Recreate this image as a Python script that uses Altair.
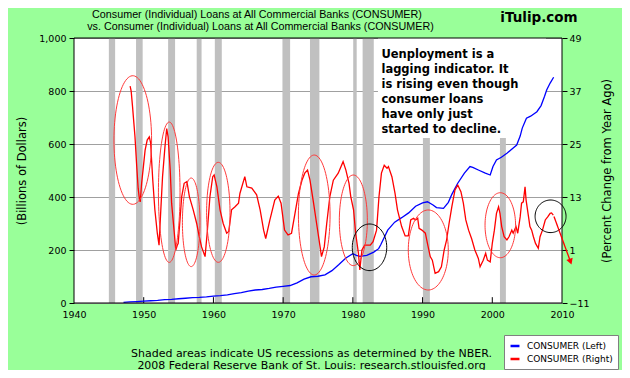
import altair as alt
import pandas as pd
import numpy as np

# ---------------- data ----------------
rec_start = [1945.0, 1948.9, 1953.5, 1957.6, 1960.2, 1969.9, 1973.85, 1980.05, 1981.4, 1990.05, 2001.1]
rec_end = [1945.9, 1949.85, 1954.5, 1958.3, 1961.2, 1971.0, 1975.2, 1980.55, 1983.0, 1991.05, 2001.95]

blue_years = [1947.1, 1948, 1949, 1950, 1951, 1952, 1953, 1954, 1955, 1956, 1957, 1958, 1959, 1960,
              1961, 1962, 1963, 1964, 1965, 1966, 1967, 1968, 1969, 1970, 1971, 1972, 1973, 1974,
              1975, 1976, 1977, 1978, 1979, 1980, 1980.5, 1981, 1982, 1983, 1983.7, 1984, 1985,
              1986, 1987, 1988, 1989, 1990, 1990.7, 1991.5, 1992, 1993, 1993.7, 1994.2, 1995,
              1996, 1996.8, 1997.2, 1998, 1999, 1999.7, 2000.1, 2000.6, 2001.3, 2002.1, 2003,
              2003.5, 2004, 2004.3, 2004.9, 2005.5, 2006.4, 2007, 2007.5, 2007.8, 2008.3, 2008.8]
blue_vals = [2, 4, 5.5, 7, 8.5, 10, 13, 14, 16, 18, 20, 21, 23, 26,
             28, 31, 35, 39, 45, 49, 51, 55, 60, 63, 66, 76, 90, 99,
             101, 106, 122, 145, 170, 186, 180, 176, 180, 192, 205, 220, 275,
             305, 322, 340, 365, 378, 382, 370, 360, 357, 380, 410, 450,
             490, 515, 512, 502, 490, 483, 515, 540, 550, 565, 585,
             596, 630, 660, 697, 705, 722, 745, 780, 804, 830, 852]

red_years = [1948.05, 1948.2, 1948.4, 1948.6, 1948.75, 1949.0, 1949.2, 1949.4, 1949.5, 1949.6, 1949.7,
             1949.9, 1950.2, 1950.5, 1950.8, 1951.0, 1951.1, 1951.3, 1951.6, 1951.95, 1952.2, 1952.4,
             1952.7, 1953.05, 1953.3, 1953.5, 1953.8, 1954.0, 1954.35, 1954.6, 1954.8, 1954.95, 1955.2,
             1955.45, 1955.8, 1956.2, 1956.55, 1957.1, 1957.6, 1957.97, 1958.3, 1958.8, 1959.1, 1959.5,
             1959.9, 1960.1, 1960.5, 1960.95, 1961.4, 1961.9, 1962.2, 1962.6, 1963.1, 1963.6, 1963.8,
             1964.5, 1964.8, 1965.5, 1966.2, 1966.7, 1967.2, 1967.5, 1968.1, 1968.8, 1969.3, 1969.7,
             1970.2, 1970.7, 1971.2, 1971.7, 1972.2, 1972.7, 1973.1, 1973.5, 1973.85, 1974.3, 1974.8,
             1975.3, 1975.5, 1975.9, 1976.25, 1976.7, 1977.2, 1977.9, 1978.6, 1979.0, 1979.45, 1979.7,
             1980.1, 1980.4, 1980.8, 1981.0, 1981.3, 1981.7, 1982.5, 1982.9, 1983.4, 1983.75, 1984.1,
             1984.5, 1984.9, 1985.1, 1985.6, 1986.05, 1986.4, 1987.0, 1987.5, 1987.95, 1988.3, 1988.7,
             1989.0, 1989.3, 1989.5, 1989.9, 1990.4, 1990.7, 1991.1, 1991.4, 1991.8, 1992.3, 1992.7,
             1993.1, 1993.45, 1993.8, 1994.2, 1994.65, 1995.05, 1995.5, 1995.85, 1996.2, 1996.6,
             1997.05, 1997.5, 1998.0, 1998.25, 1998.7, 1999.05, 1999.3, 1999.7, 2000.0, 2000.3, 2000.6,
             2000.9, 2001.1, 2001.35, 2001.7, 2002.1, 2002.4, 2002.8, 2003.0, 2003.4, 2003.65, 2004.0,
             2004.2, 2004.45, 2004.7, 2004.85, 2005.2, 2005.4, 2005.65, 2005.9, 2006.2, 2006.6, 2006.85,
             2007.2, 2007.6, 2007.95, 2008.3, 2008.5, 2008.75]
red_vals = [38.1, 37.0, 33.4, 29.5, 26.6, 19.9, 15.0, 12.3, 11.9, 14.0, 16.1,
            19.1, 23.6, 25.9, 26.6, 25.2, 22.1, 16.8, 10.1, 4.8, 2.1, 8.5,
            17.6, 24.4, 28.5, 26.6, 19.1, 11.6, 5.5, 1.0, 2.0, 2.5, 7.8,
            13.1, 16.1, 16.5, 13.1, 10.1, 7.0, 4.0, 1.7, -0.5, 4.8, 13.1,
            17.6, 18.0, 15.3, 10.1, 7.0, 4.8, 5.2, 10.1, 10.8, 11.6, 13.8,
            17.6, 15.3, 15.0, 13.5, 10.1, 5.5, 3.6, 7.8, 12.3, 13.2, 11.6,
            5.5, 4.4, 4.8, 9.3, 13.8, 16.8, 18.4, 19.1, 16.8, 12.3, 7.0,
            1.7, -0.5, 1.7, 7.0, 13.1, 16.8, 18.4, 21.0, 19.1, 16.1, 13.1,
            10.1, 4.8, 0.25, -3.5, 1.0, 2.1, 2.1, 2.9, 5.5, 13.1, 18.4,
            20.2, 19.5, 19.9, 17.6, 13.8, 10.1, 6.3, 4.2, 4.2, 7.8, 8.2,
            7.8, 8.2, 5.9, 5.5, 4.8, 2.5, -0.5, -1.3, -4.3, -3.9, -2.8,
            1.0, 3.3, 7.0, 10.8, 14.6, 15.7, 14.2, 11.6, 7.8, 5.5,
            3.5, 1.0, -0.9, -2.8, -1.3, 0.25, -1.3, -1.7, 2.5, 5.5, 9.3,
            10.8, 9.3, 6.3, 4.0, 3.3, 4.0, 5.5, 4.8, 6.3, 4.8, 8.5,
            11.6, 11.9, 15.3, 12.3, 8.5, 6.3, 5.5, 4.0, 2.5, 1.4, 4.0,
            5.5, 7.8, 8.5, 9.3, 9.4, 8.9]

# annotation ellipses (centre year, centre %, half-width in years, half-height in %)
red_ell = [(1948.43, 25.9, 2.70, 14.56), (1953.66, 14.08, 1.55, 15.89), (1956.81, 7.27, 1.26, 10.03),
           (1960.70, 9.53, 1.68, 11.32), (1974.46, 8.92, 2.27, 13.58), (1980.07, 7.72, 2.01, 10.26),
           (1990.82, 1.0, 2.87, 9.06), (2001.15, 6.61, 2.19, 7.36)]
black_ell = [(1982.39, 1.61, 2.47, 5.28), (2008.36, 8.63, 2.22, 3.69)]

arrow_years = [2008.85, 2011.22]
arrow_vals = [8.6, -1.65]

title_lines = ["Consumer (Individual) Loans at All Commercial Banks (CONSUMER)",
               "vs.  Consumer (Individual) Loans at All Commercial Banks (CONSUMER)"]
title_pos_yr = [1966.25, 1966.75]
title_pos_p = [54.1, 51.45]
footer_lines = ["Shaded areas indicate US recessions as determined by the NBER.",
                "2008 Federal Reserve Bank of St. Louis: research.stlouisfed.org"]
note_text = "Uenployment is a\nlagging indicator. It\nis rising even though\nconsumer loans\nhave only just\nstarted to decline."
series_names = ["CONSUMER (Left)", "CONSUMER (Right)"]
x_ticks = [1940, 1950, 1960, 1970, 1980, 1990, 2000, 2010]
left_ticks = [0, 200, 400, 600, 800, 1000]
right_ticks = [-11, 1, 13, 25, 37, 49]

# ---------------- tables ----------------
rec_df = pd.DataFrame({"yr": rec_start, "yr2": rec_end})
blue_df = pd.DataFrame({"yr": blue_years, "v": blue_vals, "s": series_names[0]})
red_df = pd.DataFrame({"yr": red_years, "p": red_vals, "s": series_names[1]})
box_df = pd.DataFrame({"yr": [1983.6], "yr2": [2007.7], "v": [1000], "v2": [623]})
frame_df = pd.DataFrame({"yr": [1940], "yr2": [2010], "v": [0], "v2": [1000]})
xtick_df = pd.DataFrame({"yr": x_ticks[1:-1], "v": 0, "v2": 22})


def ellipse_table(ells):
    rows = []
    t = np.linspace(0, 2 * np.pi, 91)
    for i, (cx, cy, rx, ry) in enumerate(ells):
        for k, tt in enumerate(t):
            rows.append({"id": i, "k": k, "yr": cx + rx * np.cos(tt), "p": cy + ry * np.sin(tt)})
    return pd.DataFrame(rows)


red_ell_df = ellipse_table(red_ell)
black_ell_df = ellipse_table(black_ell)
arrow_df = pd.DataFrame({"yr": arrow_years, "p": arrow_vals, "k": [0, 1]})
head_df = arrow_df.iloc[[1]]
note_df = pd.DataFrame({"yr": [1984.1], "p": [46.5], "t": [note_text]})
brand_df = pd.DataFrame({"yr": [2006.7], "p": [53.6], "t": ["iTulip.com"]})
title_df = pd.DataFrame({"yr": title_pos_yr, "p": title_pos_p, "t": title_lines})

# ---------------- encodings ----------------
FONT = "DejaVu Sans"
x_axis = alt.Axis(values=x_ticks, format="d", ticks=False, tickSize=0, grid=False, domain=False,
                  labelFont=FONT, labelFontSize=9.5, labelPadding=6, labelColor="black",
                  labelFlush=False,
                  title=footer_lines, titleFont=FONT, titleFontSize=11, titleFontWeight="normal",
                  titleColor="black", titleX=237, titleY=44, titleBaseline="top",
                  titleLineHeight=12, titleAlign="center")
X = alt.X("yr:Q", scale=alt.Scale(domain=[1940, 2010], nice=False, zero=False), axis=x_axis)

yl_axis = alt.Axis(orient="left", values=left_ticks, format=",.0f", grid=True, gridColor="#a0a0a0",
                   gridWidth=1, domain=False, ticks=True, tickSize=5, tickColor="black",
                   labelFont=FONT, labelFontSize=9.5, labelPadding=3, labelColor="black",
                   labelFlush=False,
                   title="(Billions of Dollars)", titleFont=FONT, titleFontSize=11.5,
                   titleFontWeight="normal", titleColor="black", titleAngle=270,
                   titleX=-52, titleY=132.5, titleAlign="center", titleBaseline="middle")
YL = alt.Y("v:Q", scale=alt.Scale(domain=[0, 1000], nice=False), axis=yl_axis)

yr_axis = alt.Axis(orient="right", values=right_ticks, format="d", grid=False, domain=False,
                   ticks=True, tickSize=5, tickColor="black", labelFont=FONT, labelFontSize=9.5,
                   labelPadding=2, labelColor="black", labelFlush=False,
                   title="(Percent Change from Year Ago)", titleFont=FONT, titleFontSize=11.5,
                   titleFontWeight="normal", titleColor="black", titleAngle=270,
                   titleX=45, titleY=132.5, titleAlign="center", titleBaseline="middle")
YR = alt.Y("p:Q", scale=alt.Scale(domain=[-11, 49], nice=False, zero=False), axis=yr_axis)

color = alt.Color("s:N", scale=alt.Scale(domain=series_names, range=["#0000ff", "#ff0000"]),
                  legend=alt.Legend(title=None, orient="none", legendX=430, legendY=297,
                                    fillColor="white", strokeColor="#808080", padding=5,
                                    symbolType="stroke", symbolSize=80, symbolStrokeWidth=2.5,
                                    labelFont=FONT, labelFontSize=9, labelColor="black",
                                    labelOffset=6, rowPadding=2))

# ---------------- layers ----------------
rec = alt.Chart(rec_df).mark_rect(color="#c0c0c0").encode(x=X, x2="yr2")
box = alt.Chart(box_df).mark_rect(color="white").encode(x=X, x2="yr2", y=YL, y2="v2")
frame = alt.Chart(frame_df).mark_rect(filled=False, stroke="black", strokeWidth=1).encode(
    x=X, x2="yr2", y=YL, y2="v2")
xticks = alt.Chart(xtick_df).mark_rule(color="black", strokeWidth=1).encode(x=X, y=YL, y2="v2")
blue = alt.Chart(blue_df).mark_line(strokeWidth=1.3).encode(x=X, y=YL, color=color)

left = alt.layer(rec, box, xticks, blue, frame)

red = alt.Chart(red_df).mark_line(strokeWidth=1.3).encode(x=X, y=YR, color=color)
rell = alt.Chart(red_ell_df).mark_line(color="#ff3a3a", strokeWidth=1).encode(
    x=X, y=YR, detail="id:N", order="k:Q")
bell = alt.Chart(black_ell_df).mark_line(color="black", strokeWidth=1).encode(
    x=X, y=YR, detail="id:N", order="k:Q")
arrow = alt.Chart(arrow_df).mark_line(color="#ff0000", strokeWidth=1.3).encode(
    x=X, y=YR, order="k:Q")
head = alt.Chart(head_df).mark_point(shape="triangle-down", filled=True, size=45, angle=340,
                                     color="#ff0000", opacity=1).encode(x=X, y=YR)
note = alt.Chart(note_df).mark_text(lineBreak="\n", align="left", baseline="top", font=FONT,
                                    fontSize=11.5, fontWeight="bold", lineHeight=15,
                                    color="black").encode(x=X, y=YR, text="t:N")
brand = alt.Chart(brand_df).mark_text(align="center", baseline="middle", font=FONT,
                                      fontSize=13.5, fontWeight="bold", color="black").encode(
    x=X, y=YR, text="t:N")
titles = alt.Chart(title_df).mark_text(align="center", baseline="middle", font="Liberation Sans",
                                       fontSize=10.75, color="black").encode(
    x=X, y=YR, text="t:N")

right = alt.layer(red, rell, bell, arrow, head, note, brand, titles)

chart = alt.layer(left, right).resolve_scale(y="independent").properties(
    width=488, height=265,
    padding={"left": 66, "top": 30, "right": 60, "bottom": 67},
    autosize=alt.AutoSizeParams(type="none"),
    background="#99ff99",
).configure_view(stroke=None, fill="white")

chart.save("out.html", embed_options={"renderer": "svg", "actions": False})
